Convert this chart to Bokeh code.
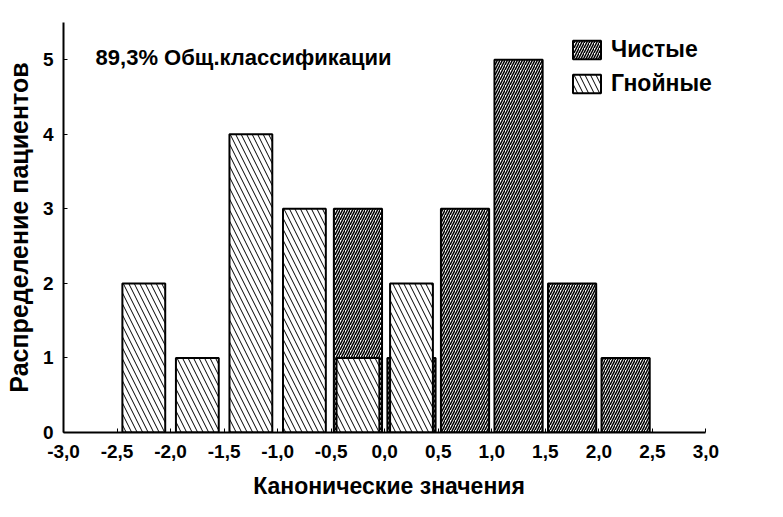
from bokeh.plotting import figure
from bokeh.models import FixedTicker, Label, Legend, LegendItem, ColumnDataSource
from bokeh.embed import file_html
from bokeh.resources import INLINE

# Data
bin_centers = [-2.25, -1.75, -1.25, -0.75, -0.25, 0.25, 0.75, 1.25, 1.75, 2.25]
chistye = [0, 0, 0, 0, 3, 1, 3, 5, 2, 1]
gnoinye = [2, 1, 4, 3, 1, 2, 0, 0, 0, 0]
x_ticks = [-3.0, -2.5, -2.0, -1.5, -1.0, -0.5, 0.0, 0.5, 1.0, 1.5, 2.0, 2.5, 3.0]
x_tick_labels = ["-3,0", "-2,5", "-2,0", "-1,5", "-1,0", "-0,5", "0,0", "0,5", "1,0", "1,5", "2,0", "2,5", "3,0"]
y_ticks = [0, 1, 2, 3, 4, 5]
series_names = ["Чистые", "Гнойные"]
annotation = "89,3% Общ.классификации"

FONT = "Liberation Sans"

# x range extends a little past 3.0 so the legend is not clipped; axis stops at 3.0
p = figure(width=770, height=510, x_range=(-3.0, 3.08), y_range=(0, 5.5),
           output_backend="svg", toolbar_location=None,
           min_border_left=63, min_border_right=56, min_border_top=22, min_border_bottom=78)
p.outline_line_color = None
p.xgrid.visible = False
p.ygrid.visible = False

c_x = [x for x, v in zip(bin_centers, chistye) if v > 0]
c_v = [v for v in chistye if v > 0]
g_x = [x for x, v in zip(bin_centers, gnoinye) if v > 0]
g_v = [v for v in gnoinye if v > 0]

src_c = ColumnDataSource(dict(x=c_x, top=c_v))
src_g = ColumnDataSource(dict(x=g_x, top=g_v))

r_c = p.vbar(x="x", top="top", bottom=0, width=0.45, source=src_c,
             fill_color="white", line_color="black", line_width=2,
             hatch_pattern="/", hatch_color="black", hatch_scale=5, hatch_weight=1.5)
r_g = p.vbar(x="x", top="top", bottom=0, width=0.4, source=src_g,
             fill_color="white", line_color="black", line_width=2,
             hatch_pattern="\\", hatch_color="black", hatch_scale=11, hatch_weight=1)

legend = Legend(items=[LegendItem(label=series_names[0], renderers=[r_c]),
                       LegendItem(label=series_names[1], renderers=[r_g])],
                location=(506, 335))
legend.background_fill_alpha = 0
legend.border_line_color = None
legend.glyph_width = 35
legend.glyph_height = 23
legend.label_text_font = FONT
legend.label_text_font_size = "23px"
legend.label_text_font_style = "bold"
legend.label_text_color = "black"
legend.label_height = 23
legend.spacing = 7
legend.margin = 0
legend.padding = 0
legend.label_standoff = 7
p.add_layout(legend)

# axes
p.xaxis.ticker = FixedTicker(ticks=x_ticks)
p.xaxis.major_label_overrides = {t: l for t, l in zip(x_ticks, x_tick_labels)}
p.xaxis.bounds = (-3.0, 3.0)
p.yaxis.ticker = FixedTicker(ticks=y_ticks)
for ax in (p.xaxis, p.yaxis):
    ax.axis_line_width = 2
    ax.axis_line_color = "black"
    ax.major_tick_in = 4
    ax.major_tick_out = 0
    ax.major_tick_line_color = "black"
    ax.minor_tick_line_color = None
    ax.major_label_text_font = FONT
    ax.major_label_text_font_size = "19px"
    ax.major_label_text_font_style = "bold"
    ax.major_label_text_color = "black"
    ax.axis_label_text_font = FONT
    ax.axis_label_text_font_style = "bold"
    ax.axis_label_text_color = "black"
p.xaxis.axis_label_text_font_size = "23px"
p.yaxis.axis_label_text_font_size = "25px"
p.xaxis.axis_label = "Канонические значения"
p.yaxis.axis_label = "Распределение пациентов"
p.xaxis.major_label_standoff = 12
p.xaxis.axis_label_standoff = 12
p.yaxis.major_label_standoff = 10
p.yaxis.axis_label_standoff = 7

p.add_layout(Label(x=-2.70, y=5.03, text=annotation, text_font=FONT,
                   text_font_size="22px", text_font_style="bold",
                   text_baseline="middle", text_color="black"))

open("out.html", "w").write(file_html(p, INLINE))
